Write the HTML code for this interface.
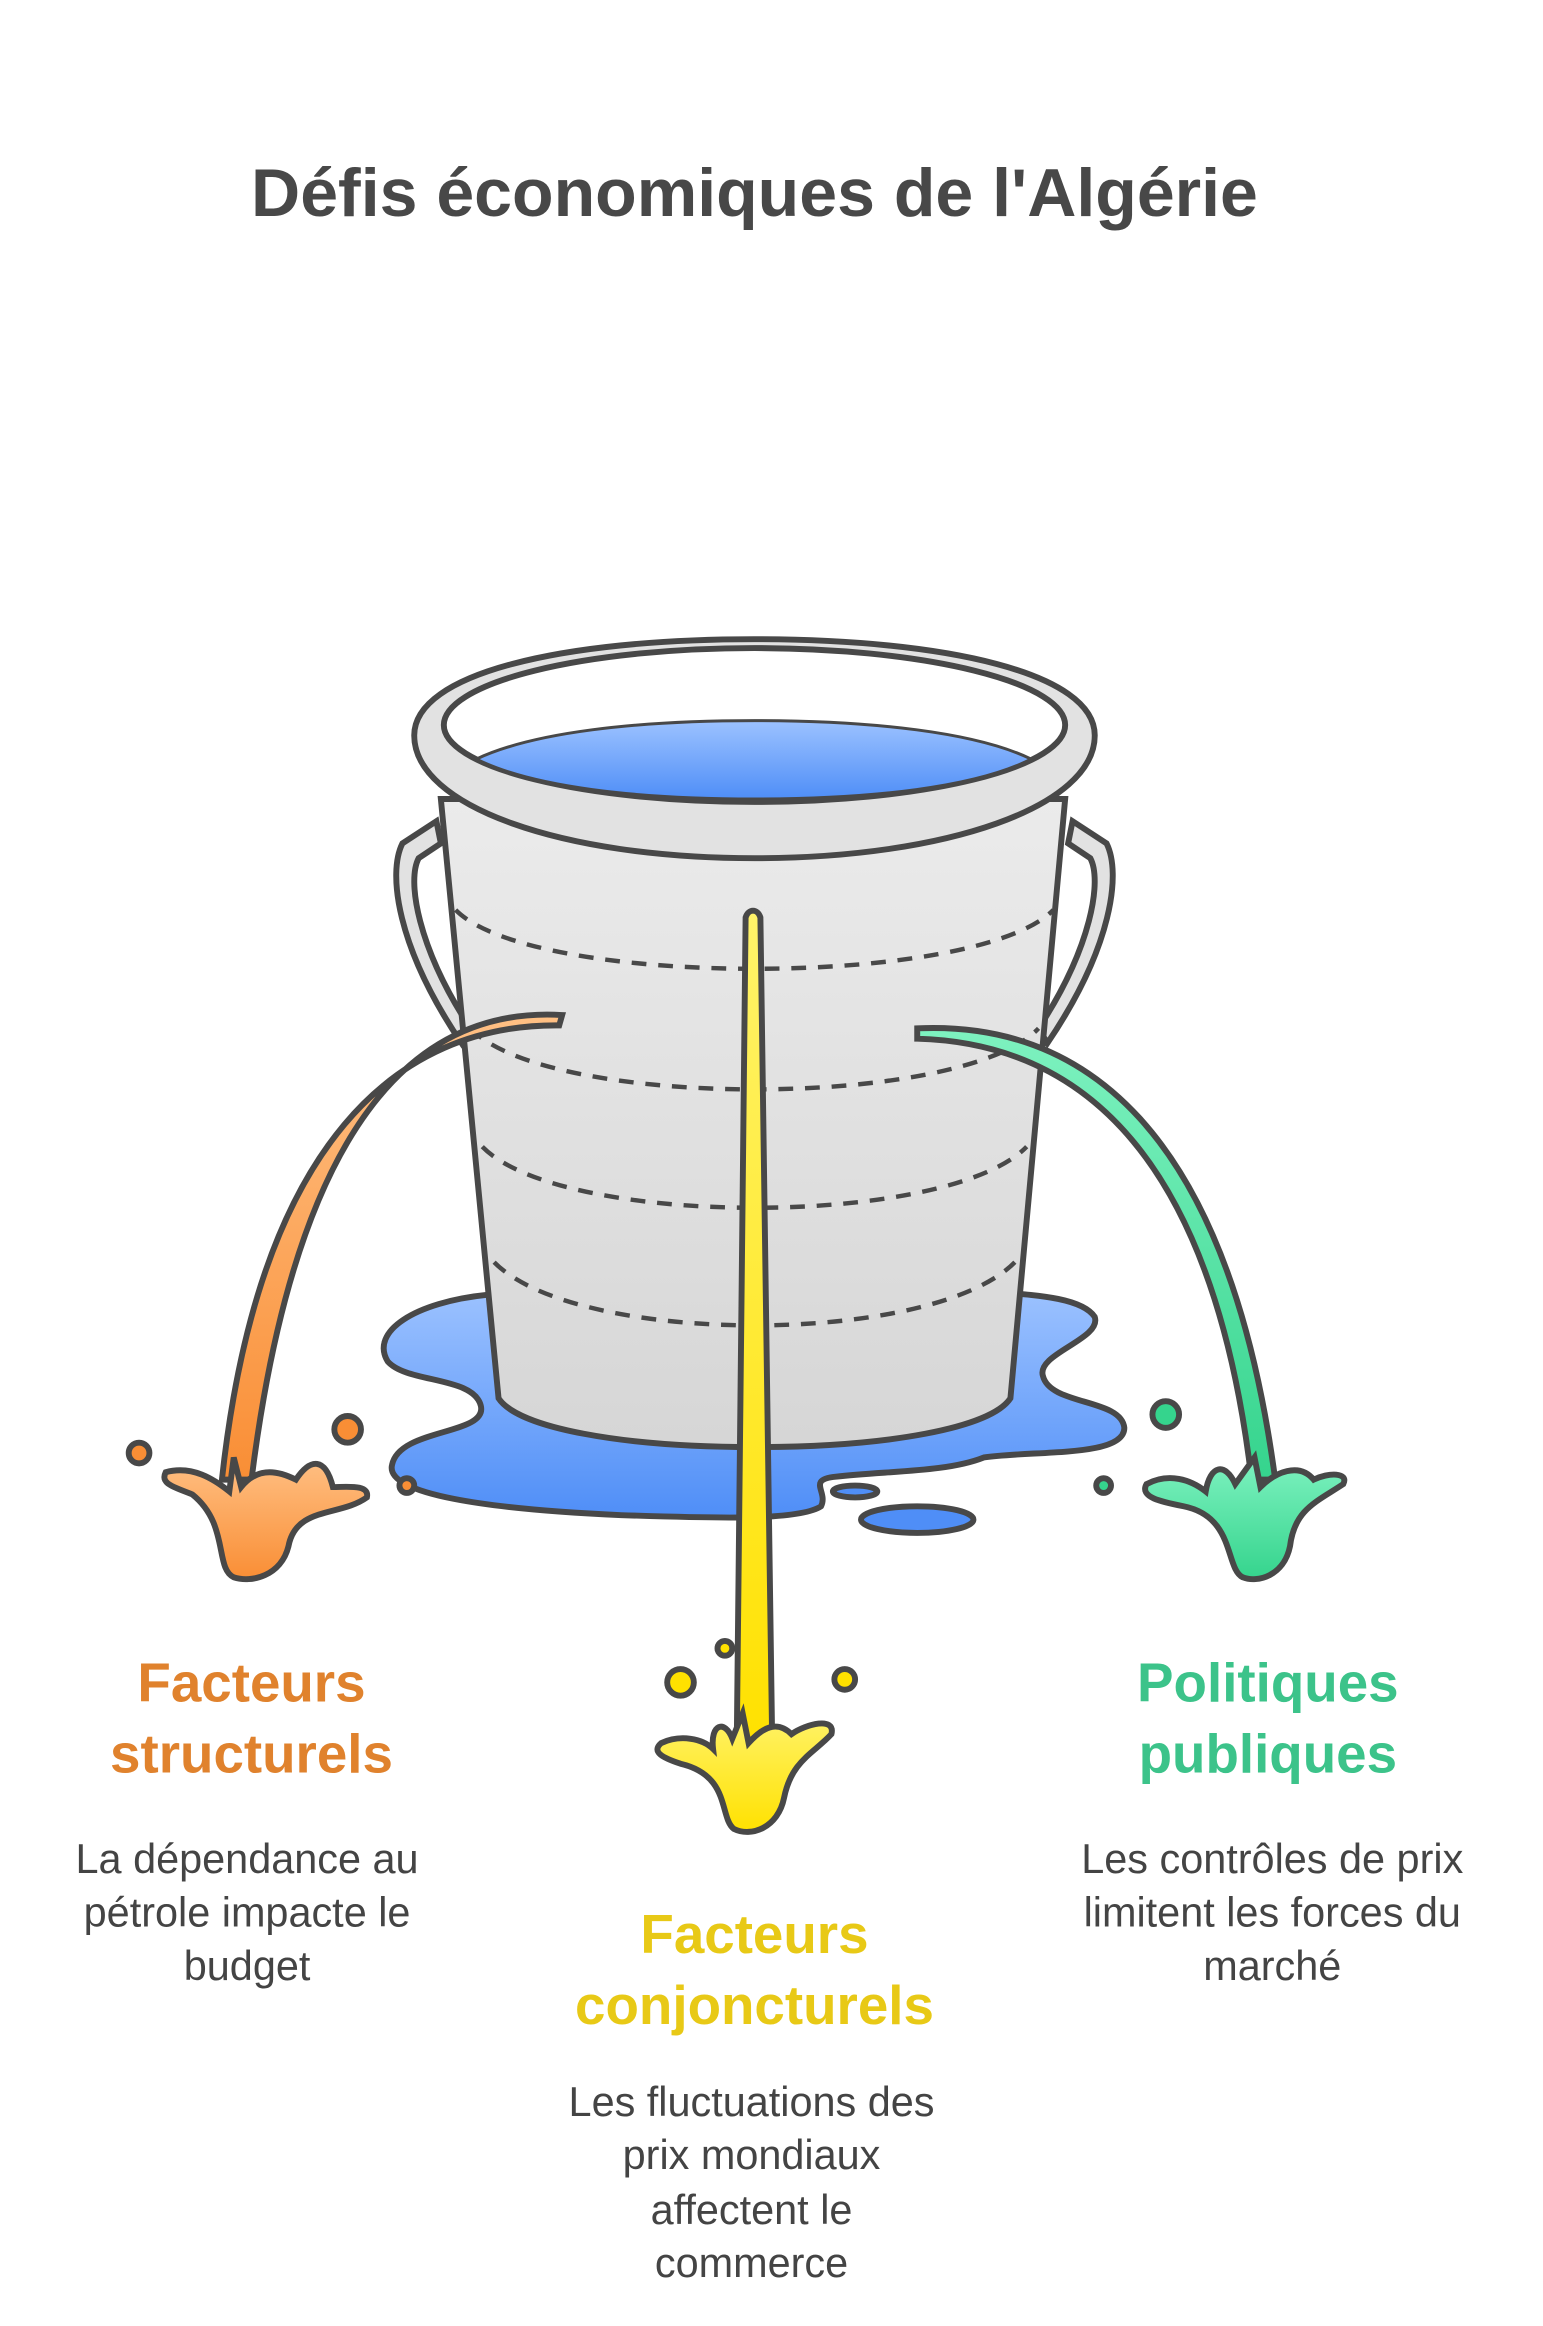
<!DOCTYPE html>
<html><head><meta charset="utf-8"><style>
html,body{margin:0;padding:0;background:#fff;}
svg{display:block;}
text{font-family:"Liberation Sans",sans-serif;}
</style></head><body>
<svg width="1543" height="2326" viewBox="0 0 1043 1572" preserveAspectRatio="none" xmlns="http://www.w3.org/2000/svg">
<defs>
<linearGradient id="wb" x1="0" y1="0" x2="0" y2="1"><stop offset="0" stop-color="#9cc2ff"/><stop offset="1" stop-color="#4f8ef7"/></linearGradient>
<linearGradient id="bk" x1="0" y1="0" x2="0" y2="1"><stop offset="0" stop-color="#ebebeb"/><stop offset="1" stop-color="#d6d6d6"/></linearGradient>
<linearGradient id="or" x1="0" y1="0" x2="0" y2="1"><stop offset="0" stop-color="#ffc084"/><stop offset="1" stop-color="#f98e35"/></linearGradient>
<linearGradient id="ye" x1="0" y1="0" x2="0" y2="1"><stop offset="0" stop-color="#fff36a"/><stop offset="1" stop-color="#ffe100"/></linearGradient>
<linearGradient id="gr" x1="0" y1="0" x2="0" y2="1"><stop offset="0" stop-color="#7ef2c0"/><stop offset="1" stop-color="#35d48d"/></linearGradient>
</defs>
<text x="510" y="146" text-anchor="middle" font-size="46" font-weight="bold" fill="#484848">Défis économiques de l'Algérie</text>

<g stroke="#484848" stroke-width="4">
<!-- puddle -->
<path d="M330,875 C280,880 250,900 262,920 C275,935 320,930 325,950 C330,970 270,965 265,990 C260,1010 330,1020 420,1024 C480,1026 540,1028 555,1018 C560,1008 545,1000 565,998 C600,994 640,995 665,985 C700,980 760,985 760,965 C758,945 710,950 705,930 C700,915 745,905 740,890 C730,875 690,875 660,872 Z" fill="url(#wb)"/>
<ellipse cx="578" cy="1008" rx="15" ry="4" fill="#4f8ef7"/>
<ellipse cx="620" cy="1027" rx="38" ry="9" fill="#4f8ef7"/>

<!-- handles -->
<path d="M295,555 L272,570 C262,590 268,640 312,705 L318,695 C282,640 275,595 283,580 L298,570 Z" fill="#e2e2e2"/>
<path d="M725,555 L748,570 C758,590 752,640 708,705 L702,695 C738,640 745,595 737,580 L722,570 Z" fill="#e2e2e2"/>

<!-- body -->
<path d="M298,540 L720,540 L683,945 C670,965 600,978 510,978 C420,978 350,965 337,945 Z" fill="url(#bk)"/>
</g>
<g fill="none" stroke="#484848" stroke-width="3" stroke-dasharray="10,8">
<path d="M308,615 C360,668 660,668 712,615"/>
<path d="M318,695 C370,750 650,750 702,695"/>
<path d="M326,775 C380,830 640,830 694,775"/>
<path d="M334,853 C390,910 630,910 686,853"/>
</g>

<g stroke="#484848" stroke-width="4">
<!-- rim -->
<path d="M280,497 C280,455 380,432 510,432 C640,432 740,455 740,497 C740,545 640,580 510,580 C380,580 280,545 280,497 Z" fill="#e2e2e2"/>
<ellipse cx="510" cy="490" rx="210" ry="52" fill="#fff"/>
<path d="M322,513 C360,495 430,487 510,487 C590,487 660,495 697,513 C660,532 590,540 510,540 C430,540 360,532 322,513 Z" fill="url(#wb)" stroke-width="2"/>

<!-- orange stream -->
<path d="M380,686 C280,680 200,760 170,1000 L150,1000 C175,770 270,692 378,693 Z" fill="url(#or)"/>
<path d="M112,995 C130,990 145,1000 155,1008 L158,985 L163,1005 C175,990 190,995 200,1000 C210,985 220,985 225,1005 C235,1005 250,1003 248,1012 C230,1025 200,1018 195,1045 C190,1065 170,1070 158,1066 C145,1060 155,1030 130,1010 C118,1005 108,1003 112,995 Z" fill="url(#or)"/>
<circle cx="94" cy="982" r="7" fill="#f98e35"/>
<circle cx="235" cy="966" r="9" fill="#f98e35"/>
<circle cx="275" cy="1004" r="5" fill="#f98e35"/>

<!-- green stream -->
<path d="M620,695 C730,690 830,760 862,1000 L846,1000 C820,780 730,705 620,702 Z" fill="url(#gr)"/>
<path d="M775,1003 C790,995 805,1000 815,1008 C818,990 828,988 835,1003 L848,985 L852,1005 C862,995 878,988 888,1000 C898,995 912,995 908,1003 C890,1015 875,1020 872,1045 C868,1065 850,1070 840,1066 C828,1060 835,1025 800,1018 C785,1015 770,1012 775,1003 Z" fill="url(#gr)"/>
<circle cx="788" cy="956" r="9" fill="#35d48d"/>
<circle cx="746" cy="1004" r="5" fill="#35d48d"/>

<!-- yellow stream -->
<path d="M504,620 C506,614 512,614 514,620 L522,1180 L498,1180 Z" fill="url(#ye)"/>
<path d="M447,1178 C460,1172 475,1175 482,1182 C480,1165 490,1162 495,1175 L502,1158 L506,1178 C515,1168 525,1162 535,1172 C545,1165 565,1160 562,1172 C550,1185 535,1190 530,1215 C526,1235 508,1242 496,1236 C486,1228 494,1200 460,1192 C448,1188 440,1184 447,1178 Z" fill="url(#ye)"/>
<circle cx="460" cy="1137" r="9" fill="#ffe100"/>
<circle cx="490" cy="1114" r="5" fill="#ffe100"/>
<circle cx="571" cy="1135" r="7" fill="#ffe100"/>
</g>

<!-- labels -->
<g font-weight="bold" font-size="37" text-anchor="middle">
<text x="170" y="1150" fill="#E0822D">Facteurs</text>
<text x="170" y="1198" fill="#E0822D">structurels</text>
<text x="510" y="1320" fill="#E8C916">Facteurs</text>
<text x="510" y="1368" fill="#E8C916">conjoncturels</text>
<text x="857" y="1150" fill="#3CC38A">Politiques</text>
<text x="857" y="1198" fill="#3CC38A">publiques</text>
</g>
<g font-size="28" text-anchor="middle" fill="#444">
<text x="167" y="1266">La dépendance au</text>
<text x="167" y="1302">pétrole impacte le</text>
<text x="167" y="1338">budget</text>
<text x="508" y="1430">Les fluctuations des</text>
<text x="508" y="1466">prix mondiaux</text>
<text x="508" y="1503">affectent le</text>
<text x="508" y="1539">commerce</text>
<text x="860" y="1266">Les contrôles de prix</text>
<text x="860" y="1302">limitent les forces du</text>
<text x="860" y="1338">marché</text>
</g>
</svg>
</body></html>
